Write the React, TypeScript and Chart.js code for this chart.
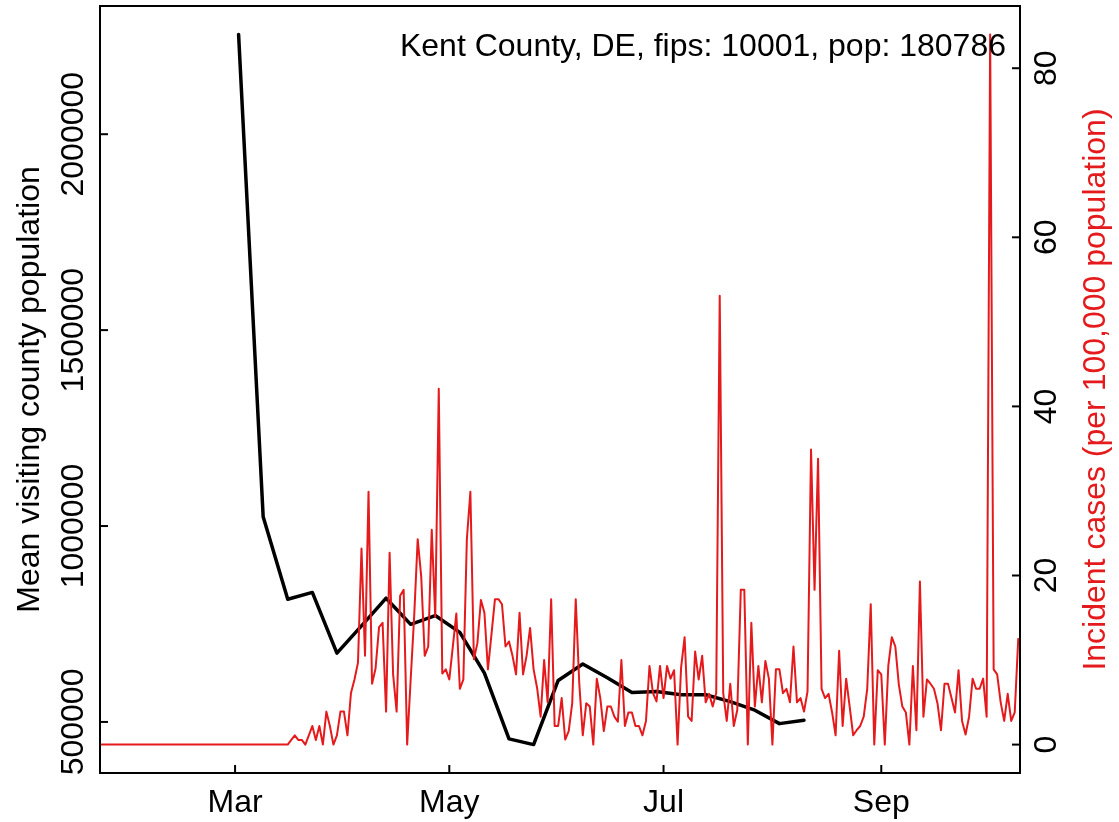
import React, { useEffect, useRef } from "react";
import { Chart, registerables } from "chart.js";

Chart.register(...registerables);

// ---- data ----
const caseStartDate = "2020-01-23";
// daily incident cases per 100,000 population, starting at caseStartDate
const incidentCases: number[] = [
  0, 0, 0, 0, 0, 0, 0, 0, 0, 0, 0, 0, 0, 0, 0, 0, 0, 0, 0, 0,
  0, 0, 0, 0, 0, 0, 0, 0, 0, 0, 0, 0, 0, 0, 0, 0, 0, 0, 0, 0,
  0, 0, 0, 0, 0, 0, 0, 0, 0, 0, 0, 0, 0, 0,
  0.55, 1.1, 0.55, 0.55, 0, 1.1, 2.2, 0.55, 2.2, 0,
  3.9, 2.2, 0, 1.1, 3.9, 3.9, 1.1, 6.1, 7.7, 9.7,
  23.2, 10.5, 29.9, 7.2, 9.0, 13.9, 14.4, 3.9, 22.7, 8.3,
  3.9, 17.6, 18.3, 0, 7.7, 15.2, 24.3, 19.9, 10.5, 11.6,
  25.4, 15.1, 42.1, 8.4, 8.9, 7.7, 11.6, 15.5, 6.6, 7.7,
  24.3, 29.9, 10.1, 12.0, 17.1, 15.6, 8.9, 13.0, 17.2, 17.2,
  16.6, 11.6, 12.2, 10.5, 8.3, 15.6, 8.3, 10.5, 13.8, 8.9,
  6.7, 3.3, 10.0, 5.0, 17.2, 2.2, 2.2, 5.5, 0.6, 1.6,
  4.9, 17.2, 7.3, 1.1, 4.9, 4.5, 0, 7.8, 5.5, 1.6,
  4.5, 4.5, 3.3, 2.7, 10.0, 2.2, 3.8, 3.8, 2.2, 2.2,
  1.1, 2.8, 9.3, 6.1, 5.1, 9.3, 5.5, 9.3, 7.8, 8.8,
  0, 9.1, 12.7, 3.3, 2.8, 11.0, 7.7, 10.5, 5.0, 6.0,
  4.5, 6.1, 53.1, 6.1, 2.8, 7.2, 2.2, 4.1, 18.3, 18.3,
  0, 14.4, 4.5, 9.3, 5.0, 9.9, 7.8, 0, 8.9, 8.9,
  6.1, 6.6, 5.0, 11.6, 5.0, 5.5, 3.9, 6.3, 34.9, 18.3,
  33.8, 6.6, 5.5, 6.0, 3.8, 1.1, 11.1, 2.2, 7.8, 4.5,
  1.1, 1.7, 2.2, 3.3, 6.6, 16.6, 0, 8.8, 8.3, 0,
  9.3, 12.7, 11.6, 7.1, 4.5, 3.8, 0, 9.3, 1.7, 19.3,
  3.3, 7.7, 7.2, 6.6, 4.9, 1.7, 7.2, 7.2, 5.5, 3.8,
  8.8, 2.8, 1.2, 3.3, 7.8, 6.6, 6.6, 7.8, 3.3, 84.0,
  8.9, 8.3, 5.0, 2.8, 6.0, 2.8, 3.8, 12.5,
];

const visitDates = [
  "2020-03-02", "2020-03-09", "2020-03-16", "2020-03-23", "2020-03-30",
  "2020-04-06", "2020-04-13", "2020-04-20", "2020-04-27", "2020-05-04",
  "2020-05-11", "2020-05-18", "2020-05-25", "2020-06-01", "2020-06-08",
  "2020-06-15", "2020-06-22", "2020-06-29", "2020-07-06", "2020-07-13",
  "2020-07-20", "2020-07-27", "2020-08-03", "2020-08-10",
];
const visitValues = [
  2254700, 1023600, 813200, 830600, 675700, 745200, 815800, 749100,
  771500, 728700, 624800, 456700, 442200, 605900, 647700, 612800,
  575400, 577900, 569500, 569500, 551700, 530000, 495700, 504100,
];

const monthTickDates = ["2020-03-01", "2020-05-01", "2020-07-01", "2020-09-01"];
const monthTickLabels = ["Mar", "May", "Jul", "Sep"];
const leftTicks = [500000, 1000000, 1500000, 2000000];
const rightTicks = [0, 20, 40, 60, 80];

const titleText = "Kent County, DE, fips: 10001, pop: 180786";
const leftAxisTitle = "Mean visiting county population";
const rightAxisTitle = "Incident cases (per 100,000 population)";

// x range in days relative to caseStartDate
const xRangeDays = [-0.46, 261.5];

const RED = "#E41A1C";
const FONT = '32px "Liberation Sans", Arial, Helvetica, sans-serif';

const dayNum = (s: string) => Math.round(Date.parse(s) / 86400000);

// R-style 4% padded range
const padRange = (vals: number[]) => {
  const lo = Math.min(...vals);
  const hi = Math.max(...vals);
  const p = (hi - lo) * 0.04;
  return [lo - p, hi + p];
};

export default function App() {
  const ref = useRef<HTMLCanvasElement | null>(null);

  useEffect(() => {
    document.body.style.margin = "0";
    const canvas = ref.current;
    if (!canvas) return;
    const start = dayNum(caseStartDate);
    const casePts = incidentCases.map((v, i) => ({ x: start + i, y: v }));
    const visitPts = visitDates.map((d, i) => ({ x: dayNum(d), y: visitValues[i] }));
    const [lMin, lMax] = padRange(visitValues);
    const [rMin, rMax] = padRange(incidentCases);

    const axesPlugin = {
      id: "rAxes",
      afterDraw(chart: any) {
        const ctx = chart.ctx as CanvasRenderingContext2D;
        const a = chart.chartArea;
        const xs = chart.scales.x;
        const yl = chart.scales.yL;
        const yr = chart.scales.yR;
        ctx.save();
        ctx.strokeStyle = "#000";
        ctx.lineWidth = 2;
        ctx.strokeRect(a.left, a.top, a.right - a.left, a.bottom - a.top);
        ctx.font = FONT;
        ctx.fillStyle = "#000";
        // x ticks
        ctx.textAlign = "center";
        ctx.textBaseline = "alphabetic";
        monthTickDates.forEach((d, i) => {
          const px = xs.getPixelForValue(dayNum(d));
          ctx.beginPath();
          ctx.moveTo(px, a.bottom);
          ctx.lineTo(px, a.bottom - 8);
          ctx.stroke();
          ctx.fillText(monthTickLabels[i], px, a.bottom + 39);
        });
        // left ticks
        leftTicks.forEach((v) => {
          const py = yl.getPixelForValue(v);
          ctx.beginPath();
          ctx.moveTo(a.left, py);
          ctx.lineTo(a.left + 8, py);
          ctx.stroke();
          ctx.save();
          ctx.translate(a.left - 17, py);
          ctx.rotate(-Math.PI / 2);
          ctx.fillText(String(v), 0, 0);
          ctx.restore();
        });
        // right ticks
        rightTicks.forEach((v) => {
          const py = yr.getPixelForValue(v);
          ctx.beginPath();
          ctx.moveTo(a.right, py);
          ctx.lineTo(a.right - 8, py);
          ctx.stroke();
          ctx.save();
          ctx.translate(a.right + 36, py);
          ctx.rotate(-Math.PI / 2);
          ctx.fillText(String(v), 0, 0);
          ctx.restore();
        });
        const midY = (a.top + a.bottom) / 2;
        ctx.save();
        ctx.translate(a.left - 61, midY);
        ctx.rotate(-Math.PI / 2);
        ctx.fillText(leftAxisTitle, 0, 0);
        ctx.restore();
        ctx.save();
        ctx.fillStyle = RED;
        ctx.translate(a.right + 85, midY);
        ctx.rotate(-Math.PI / 2);
        ctx.fillText(rightAxisTitle, 0, 0);
        ctx.restore();
        ctx.textAlign = "right";
        ctx.fillText(titleText, a.right - 14, a.top + 50);
        ctx.restore();
      },
    };

    const chart = new Chart(canvas, {
      type: "line",
      data: {
        datasets: [
          {
            data: casePts,
            yAxisID: "yR",
            borderColor: RED,
            borderWidth: 2,
            pointRadius: 0,
            tension: 0,
            borderJoinStyle: "round",
            borderCapStyle: "round",
          },
          {
            data: visitPts,
            yAxisID: "yL",
            borderColor: "#000",
            borderWidth: 3.5,
            pointRadius: 0,
            tension: 0,
            borderJoinStyle: "round",
            borderCapStyle: "round",
          },
        ],
      },
      options: {
        animation: false,
        responsive: false,
        devicePixelRatio: 1,
        layout: { padding: { left: 100, right: 99, top: 6, bottom: 49 } },
        parsing: false as any,
        scales: {
          x: {
            type: "linear",
            display: false,
            min: start + xRangeDays[0],
            max: start + xRangeDays[1],
          },
          yL: { type: "linear", display: false, position: "left", min: lMin, max: lMax },
          yR: { type: "linear", display: false, position: "right", min: rMin, max: rMax },
        },
        plugins: { legend: { display: false }, tooltip: { enabled: false } },
      },
      plugins: [axesPlugin],
    } as any);
    return () => chart.destroy();
  }, []);

  return (
    <canvas
      ref={ref}
      width={1119}
      height={822}
      style={{ display: "block", width: 1119, height: 822 }}
    />
  );
}
